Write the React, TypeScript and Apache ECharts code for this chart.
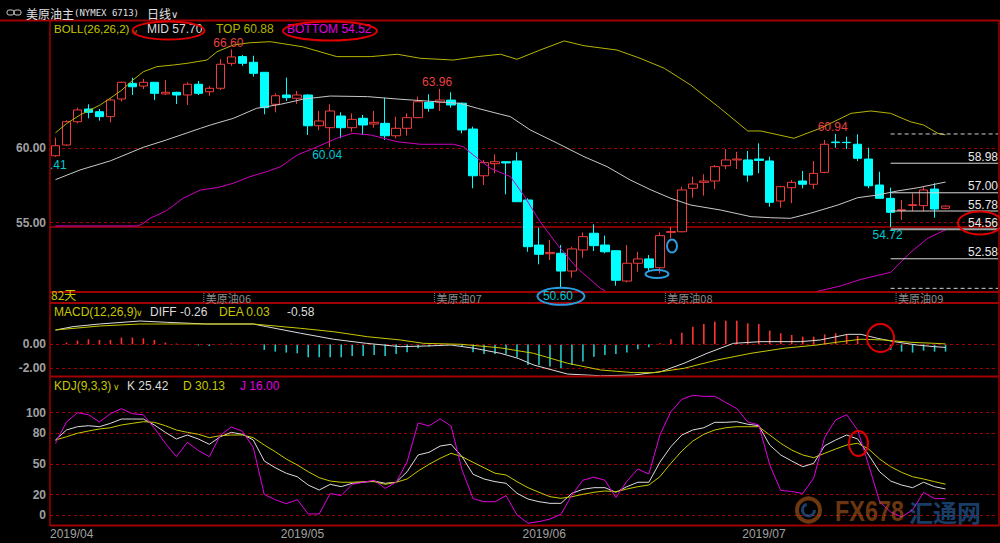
import React, { useEffect, useRef } from 'react';
import * as echarts from 'echarts';

// ---------- DATA ----------
// candles: [open, close, low, high]
const candles: number[][] = [
  [59.48, 60.15, 59.41, 60.69], [60.2, 61.76, 60.15, 61.85], [61.76, 62.55, 61.65, 62.7], [62.61, 62.39, 61.99, 62.93],
  [62.43, 62.1, 61.83, 62.61], [62.1, 63.21, 61.72, 63.33], [63.28, 64.4, 63.1, 64.44], [64.33, 64.1, 63.55, 64.71],
  [64.15, 64.4, 63.95, 64.62], [64.4, 63.66, 63.21, 64.4], [63.62, 63.73, 63.55, 64.55], [63.73, 63.55, 62.95, 63.77],
  [63.55, 64.27, 62.88, 64.4], [64.27, 63.66, 63.55, 64.49], [63.77, 64.0, 63.5, 64.15], [64.0, 65.61, 63.88, 65.96],
  [65.67, 66.1, 65.5, 66.6], [66.12, 65.67, 65.5, 66.23], [65.74, 65.0, 64.78, 66.18], [65.07, 62.7, 62.26, 65.07],
  [62.93, 63.5, 62.39, 63.66], [63.55, 63.37, 63.15, 64.71], [63.33, 63.55, 62.95, 63.82], [63.55, 61.49, 60.87, 63.6],
  [61.49, 61.81, 61.2, 62.48], [61.36, 62.48, 60.04, 62.93], [62.14, 61.36, 60.65, 62.39], [61.36, 61.92, 61.09, 62.32],
  [61.99, 61.54, 60.87, 62.21], [61.61, 61.72, 61.36, 62.48], [61.65, 60.82, 60.54, 63.37], [60.82, 61.32, 60.65, 62.1],
  [61.32, 62.03, 60.82, 62.32], [62.03, 63.1, 62.0, 63.44], [63.06, 62.66, 62.43, 63.6], [63.06, 63.21, 62.48, 63.96],
  [63.21, 62.88, 62.7, 63.73], [63.0, 61.21, 60.98, 63.05], [61.27, 58.14, 57.3, 61.43], [58.14, 59.02, 57.52, 59.2],
  [58.95, 59.08, 58.31, 59.58], [59.08, 59.0, 56.9, 59.08], [59.13, 56.4, 56.4, 59.71], [56.52, 53.39, 53.05, 56.63],
  [53.5, 52.88, 52.21, 54.66], [52.92, 53.01, 52.5, 53.84], [52.95, 51.76, 50.6, 53.5], [51.76, 53.24, 51.31, 53.39],
  [53.17, 54.06, 52.65, 54.35], [54.29, 53.46, 53.1, 54.89], [53.5, 53.05, 52.95, 54.13], [53.12, 51.14, 50.78, 53.12],
  [51.09, 52.28, 51.0, 53.5], [52.28, 52.57, 51.71, 53.05], [52.57, 51.98, 51.76, 52.83], [51.98, 54.13, 51.6, 54.35],
  [54.35, 54.4, 53.95, 54.73], [54.39, 57.19, 54.35, 57.41], [57.3, 57.59, 56.67, 58.08], [57.7, 57.79, 56.81, 58.24],
  [57.79, 58.75, 57.25, 58.86], [58.81, 59.2, 58.59, 59.93], [59.2, 59.26, 58.59, 59.75], [59.2, 58.19, 57.74, 59.8],
  [59.26, 59.17, 58.31, 60.31], [59.13, 56.36, 56.07, 59.42], [56.45, 57.41, 56.0, 57.47], [57.34, 57.7, 56.3, 57.86],
  [57.79, 57.57, 57.3, 58.46], [57.57, 58.3, 57.25, 59.13], [58.37, 60.25, 58.31, 60.54], [60.4, 60.36, 60.02, 60.94],
  [60.38, 60.36, 59.93, 60.76], [60.25, 59.31, 59.13, 60.92], [59.26, 57.47, 57.3, 60.02], [57.52, 56.63, 56.63, 58.41],
  [56.63, 55.69, 54.72, 57.34], [55.82, 55.86, 55.18, 56.52], [56.15, 56.2, 55.78, 56.97], [56.14, 57.19, 55.78, 57.41],
  [57.25, 55.91, 55.33, 57.64], [55.96, 56.11, 55.9, 56.15],
];

// BOLL bands: [day index, price]
const bollUpper: number[][] = [
  [0, 61.02], [1.03, 61.65], [2.24, 62.21], [3.15, 62.55], [4.06, 62.88], [4.97, 63.33], [6.04, 63.88], [7.04, 64.55],
  [8.0, 65.11], [9.23, 65.45], [10.74, 65.56], [11.96, 65.67], [13.78, 65.89], [14.7, 66.45], [16.2, 66.9], [17.7, 67.05],
  [19.55, 67.12], [22.5, 66.78], [25.6, 66.12], [28.7, 66.12], [31.1, 66.28], [33.2, 66.01], [36.2, 65.89], [38.4, 66.12],
  [40.5, 66.28], [42, 65.94], [44.1, 66.56], [46.3, 67.17], [48.1, 66.85], [51.1, 66.56], [53.2, 66.01], [55.4, 65.34],
  [57.8, 64.22], [60.5, 62.66], [63, 61.14], [64.2, 61.14], [67.2, 60.65], [69.6, 61.32], [72.4, 62.32], [74.2, 62.48],
  [76, 62.32], [77.8, 61.76], [79, 61.54], [80.3, 60.98], [81, 60.88],
];
const bollMid: number[][] = [
  [0, 57.88], [2.24, 58.53], [5, 59.14], [8, 60.05], [10.1, 60.54], [13.2, 61.32], [14.1, 61.54], [16.2, 61.99],
  [18.3, 62.66], [20.5, 62.93], [22.6, 63.28], [25, 63.48], [28.4, 63.44], [31.1, 63.28], [34.7, 63.1], [36.8, 62.99],
  [38.4, 62.66], [40.5, 62.26], [41.4, 62.1], [43.2, 61.21], [45.7, 60.31], [48.1, 59.42], [50.2, 58.75], [52.3, 57.86],
  [54.2, 57.19], [56, 56.63], [57.8, 56.18], [60.5, 55.85], [63.3, 55.4], [65.1, 55.33], [66.9, 55.29], [68.7, 55.63],
  [71.2, 56.18], [73, 56.67], [74.8, 56.85], [76.6, 57.12], [78.5, 57.34], [81, 57.72],
];
const bollLower: number[][] = [
  [0, 54.78], [7.5, 54.78], [8.0, 54.96], [8.6, 55.29], [10.1, 55.8], [11.6, 56.63], [13.2, 57.19], [14.7, 57.34],
  [16.2, 57.64], [17.7, 58.08], [19.2, 58.41], [20.5, 58.75], [22, 59.53], [23.5, 59.98], [25.6, 60.65], [27, 60.98],
  [28.7, 60.87], [31.1, 60.42], [33.2, 60.25], [36.2, 60.25], [37.1, 60.09], [38.4, 59.31], [39.6, 58.64], [41.4, 58.08],
  [42.6, 56.85], [44.1, 55.06], [45.7, 53.5], [47.5, 51.94], [49.6, 50.6], [52, 49.6], [56, 49.2], [62, 49.2],
  [66, 49.7], [68.7, 50.29], [71.4, 50.75], [73.3, 51.2], [76, 51.67], [77.8, 53.0], [79.4, 53.96], [81, 54.52],
];

// MACD histogram, one per day
const macdHist: number[] = [
  0, 0.14, 0.31, 0.42, 0.36, 0.36, 0.56, 0.56, 0.5, 0.36, 0.14, 0.06, 0.03, -0.1, -0.14, 0.03, 0.06, 0.03, 0, -0.47,
  -0.61, -0.69, -0.75, -1.08, -1.08, -1.08, -1.08, -0.97, -0.97, -0.89, -0.97, -0.8, -0.67, -0.33, -0.19, 0.03, 0, -0.19,
  -0.67, -0.8, -0.8, -0.8, -1.08, -1.72, -1.72, -1.86, -2.0, -1.72, -1.44, -1.03, -0.89, -0.8, -0.69, -0.42, -0.25,
  0.08, 0.42, 0.97, 1.47, 1.69, 1.89, 1.97, 1.97, 1.75, 1.69, 1.14, 0.92, 0.78, 0.64, 0.64, 0.83, 0.92, 0.86, 0.69,
  0.03, -0.08, -0.47, -0.61, -0.69, -0.53, -0.61, -0.61,
];
const macdDiff: number[][] = [
  [0, 1.19], [1.6, 1.47], [4, 1.69], [7.7, 1.94], [10.1, 1.83], [13.8, 1.69], [18, 1.69], [19.2, 1.47], [22.3, 0.92],
  [25.3, 0.42], [28.3, 0.08], [31.4, -0.2], [33.8, -0.14], [36, -0.06], [38.1, -0.33], [40.5, -0.75], [42.1, -1.17],
  [43.5, -1.72], [46.6, -2.48], [49.6, -2.62], [52.6, -2.56], [55.1, -2.28], [57.2, -1.58], [59.3, -0.75], [61.7, 0.08],
  [64.2, 0.22], [67.8, 0.22], [69.6, 0.36], [72.1, 0.83], [73.3, 0.83], [74.8, 0.5], [76.3, 0.22], [78.4, -0.06],
  [80, -0.2], [81, -0.26],
];
const macdDea: number[][] = [
  [0, 1.19], [4.1, 1.53], [7.7, 1.69], [13.8, 1.69], [18, 1.69], [22.3, 1.33], [25.3, 1.05], [28.4, 0.63], [31.4, 0.36],
  [33.5, 0.08], [36.9, 0], [40.5, -0.3], [43.5, -0.75], [46.6, -1.58], [49.6, -2.14], [52.6, -2.36], [54.5, -2.36],
  [57.2, -2.0], [60.2, -1.31], [63.3, -0.75], [66.3, -0.33], [69.3, -0.06], [71.5, 0.22], [73.3, 0.42], [75.4, 0.36],
  [77.8, 0.17], [80, 0.08], [81, 0.03],
];

// KDJ, one value per day
const kdjK: number[] = [
  73.3, 83.1, 86.3, 87.3, 86.3, 89.6, 93.8, 93.8, 93.8, 88, 80.8, 74.3, 78.2, 74.3, 69.1, 76.5, 80.8, 78.9, 73.3, 52.8,
  46.2, 40.8, 37.4, 29.3, 24.4, 30, 27.7, 31, 32, 33.2, 31, 32, 42.3, 58.7, 61.3, 67.4, 69.1, 57, 39.8, 35.2, 32.6,
  31, 21.2, 15.6, 13, 11.4, 11.4, 21.2, 25.1, 26.7, 26.7, 22.2, 27.7, 32, 32, 51.5, 66.8, 78.2, 83.1, 85.3, 90.6,
  90.6, 91.2, 88.7, 87.3, 68.4, 58.7, 52.8, 47.2, 50.5, 67.7, 73.3, 78.2, 74.3, 58.7, 42.3, 33.2, 29.3, 26.7, 32, 27.7, 25.4,
];
const kdjD: number[] = [
  73.3, 76.5, 79.9, 82.1, 84.1, 85.3, 88, 89.6, 91.2, 90.6, 87.3, 83.1, 80.8, 78.9, 75.6, 77.5, 78.2, 78.2, 75.6, 68.4,
  61.9, 54.7, 48.9, 42.3, 36.5, 33.2, 32, 32, 32.6, 32.6, 30, 32, 35.2, 43, 49.6, 55.4, 60.3, 57, 51.5, 46.2, 40.8,
  39.1, 32.6, 26.7, 22.2, 17.9, 16.3, 17.9, 20.2, 22.2, 23.5, 22.8, 25.4, 27.7, 29.3, 37.4, 50.5, 62.6, 72.3, 78.9, 83.1,
  85.3, 86.3, 86.3, 86.3, 78.2, 70.1, 63.5, 58.7, 56, 60.3, 64.5, 68.4, 70.1, 64.5, 54.7, 47.2, 41.7, 37.4, 35.2, 32.6, 30.1,
];
const kdjJ: number[] = [
  70, 91, 100, 98, 91, 99, 104, 99, 98, 85, 70, 57, 71, 63, 57, 78, 86, 82, 66, 20, 15, 11, 15, 1, 1, 21, 19, 30, 32,
  34, 26, 32, 52, 90, 87, 94, 87, 44, 16, 13, 13,
  19, 0, -8, -6.5, -4, 0.7, 19.5, 34, 37, 34, 17, 33, 45, 40, 78, 101, 113, 117, 116, 116, 110, 104, 91, 88, 49, 24,
  23, 21, 36, 76, 93, 98, 83, 49, 13, 3, -2, 5, 22, 16, 16,
];

const monthStarts = [0, 21, 43, 63];
const monthLabels = ['2019/04', '2019/05', '2019/06', '2019/07'];
const priceTicks = [55, 60];
const macdTicks = [0, -2];
const kdjTicks = [0, 20, 50, 80, 100];
const supportLine = 54.72;
const fibLevels = [60.94, 58.98, 57.0, 55.78, 54.56, 52.58, 50.6];
const fibDashed = [true, false, false, false, false, false, true];
const fibStartDay = 76;
const extremes = [
  { day: 16, price: 66.6, text: '66.60', kind: 'high' },
  { day: 0, price: 59.41, text: '.41', kind: 'low' },
  { day: 25, price: 60.04, text: '60.04', kind: 'low' },
  { day: 35, price: 63.96, text: '63.96', kind: 'high' },
  { day: 46, price: 50.6, text: '50.60', kind: 'low' },
  { day: 71, price: 60.94, text: '60.94', kind: 'high' },
  { day: 76, price: 54.72, text: '54.72', kind: 'low' },
];
const rollDays = [14, 35, 56, 77];
const rollLabels = ['美原油06', '美原油07', '美原油08', '美原油09'];

// ---------- STYLE ----------
const N = 86;
const L = 50;
const W = 945;
const FONT = '"Liberation Sans", Arial, sans-serif';
const CJK = '"Noto Sans CJK SC", sans-serif';
const RED = '#f03c3c';
const CYAN = '#00ffff';
const YEL = '#c8c800';
const WHITE = '#dcdcdc';
const MAG = '#e000e0';
const GRIDRED = '#a00000';

const cats = Array.from({ length: N }, (_, i) => 'd' + i);

const dashLine = (v: number) => ({ yAxis: v, lineStyle: { color: GRIDRED, type: [3, 3], width: 1 } });

function buildOption(): any {
  const hidden = { show: false };
  const yBase = (min: number, max: number, ticks: number[], fmt: (v: number) => string, gi: number) => ({
    type: 'value', gridIndex: gi, min, max, scale: true,
    axisLine: hidden, axisTick: hidden, splitLine: hidden,
    axisLabel: { customValues: ticks, formatter: fmt, color: '#a0a0a0', fontSize: 12, fontWeight: 'bold', fontFamily: FONT, margin: 4 },
  });
  const lineS = (data: number[][], xi: number, yi: number, color: string, extra: any = {}) => ({
    type: 'line', xAxisIndex: xi, yAxisIndex: yi, data, symbol: 'none', showSymbol: false, silent: true,
    lineStyle: { color, width: 1 }, itemStyle: { color }, z: 5, ...extra,
  });
  return {
    animation: false,
    backgroundColor: '#000',
    tooltip: { show: false },
    grid: [
      { left: L, top: 20, width: W, height: 272, containLabel: false, outerBoundsMode: 'none' },
      { left: L, top: 303, width: W, height: 74, containLabel: false, outerBoundsMode: 'none' },
      { left: L, top: 377, width: W, height: 148, containLabel: false, outerBoundsMode: 'none' },
    ],
    xAxis: [
      { type: 'category', gridIndex: 0, data: cats, boundaryGap: true, show: false },
      { type: 'value', gridIndex: 0, min: -0.5, max: N - 0.5, show: false },
      { type: 'category', gridIndex: 1, data: cats, boundaryGap: true, show: false },
      { type: 'value', gridIndex: 1, min: -0.5, max: N - 0.5, show: false },
      {
        type: 'value', gridIndex: 2, min: -0.5, max: N - 0.5,
        axisLine: hidden, axisTick: hidden, splitLine: hidden,
        axisLabel: {
          customValues: monthStarts.map((s) => s - 0.5),
          formatter: (v: number) => monthLabels[monthStarts.indexOf(Math.round(v + 0.5))] || '',
          align: 'left', color: '#a0a0a0', fontSize: 12, fontFamily: FONT, margin: 3,
        },
      },
    ],
    yAxis: [
      yBase(50.355, 68.573, priceTicks, (v) => v.toFixed(2), 0),
      yBase(-2.725, 3.44, macdTicks, (v) => v.toFixed(2), 1),
      yBase(-9.78, 134.9, kdjTicks, (v) => String(v), 2),
    ],
    series: [
      {
        type: 'candlestick', xAxisIndex: 0, yAxisIndex: 0, data: candles, barWidth: 9, silent: true, z: 2,
        itemStyle: { color: '#000', color0: CYAN, borderColor: RED, borderColor0: CYAN, borderWidth: 1 },
        markLine: {
          silent: true, symbol: 'none', label: { show: false }, animation: false, z: 1,
          data: [
            ...priceTicks.map(dashLine),
            { yAxis: supportLine, lineStyle: { color: '#b00000', type: 'solid', width: 1.5 } },
          ],
        },
      },
      lineS(bollUpper, 1, 0, '#b4b400'),
      lineS(bollMid, 1, 0, '#c8c8c8'),
      lineS(bollLower, 1, 0, '#d000c0', { z: 6 }),
      {
        type: 'bar', xAxisIndex: 2, yAxisIndex: 1, barWidth: 1.6, silent: true,
        data: macdHist.map((v) => ({ value: v, itemStyle: { color: v >= 0 ? '#ff3232' : '#1ec8c8' } })),
        markLine: { silent: true, symbol: 'none', label: { show: false }, data: macdTicks.map(dashLine) },
      },
      lineS(macdDiff, 3, 1, WHITE),
      lineS(macdDea, 3, 1, YEL),
      lineS(kdjK.map((v, i) => [i, v]), 4, 2, WHITE, {
        markLine: { silent: true, symbol: 'none', label: { show: false }, data: kdjTicks.map(dashLine) },
      }),
      lineS(kdjD.map((v, i) => [i, v]), 4, 2, YEL),
      lineS(kdjJ.map((v, i) => [i, v]), 4, 2, MAG),
    ],
  };
}

const T = (text: string, x: number, y: number, fill: string, o: any = {}) => ({
  type: 'text', x, y, silent: true, z: 100,
  style: {
    text, fill, font: o.font || `12px ${FONT}`,
    align: o.align || 'left', textAlign: o.align || 'left',
    verticalAlign: o.va || 'middle', textVerticalAlign: o.va || 'middle',
    opacity: o.opacity == null ? 1 : o.opacity,
  },
  ...(o.scaleX ? { scaleX: o.scaleX } : {}),
});
const Ln = (x1: number, y1: number, x2: number, y2: number, stroke: string, w = 1, dash?: number[]) => ({
  type: 'line', silent: true, z: 90,
  shape: { x1, y1, x2, y2 },
  style: { stroke, lineWidth: w, lineDash: dash || null },
});
const Ell = (cx: number, cy: number, rx: number, ry: number, stroke: string, w = 2) => ({
  type: 'ellipse', silent: true, z: 110,
  shape: { cx, cy, rx, ry },
  style: { fill: 'none', stroke, lineWidth: w },
});

function buildGraphics(chart: any): any[] {
  const px = (d: number, v: number) => chart.convertToPixel({ xAxisIndex: 1, yAxisIndex: 0 }, [d, v]) as number[];
  const band = W / N;
  const g: any[] = [];
  // panel borders
  g.push(Ln(0, 20.5, 1000, 20.5, GRIDRED, 2));
  g.push(Ln(50, 20, 50, 526, GRIDRED, 1.5));
  g.push(Ln(999, 20, 999, 526, GRIDRED, 1.5));
  [292, 303, 376.5, 525.5].forEach((y) => g.push(Ln(50, y, 999, y, GRIDRED, 2)));

  // header
  g.push({ type: 'rect', silent: true, shape: { x: 7, y: 10, width: 7, height: 5, r: 2 }, style: { fill: 'none', stroke: '#c8c8c8', lineWidth: 1 } });
  g.push({ type: 'rect', silent: true, shape: { x: 14, y: 10, width: 7, height: 5, r: 2 }, style: { fill: 'none', stroke: '#c8c8c8', lineWidth: 1 } });
  g.push(T('美原油主', 26, 13, '#e0e0e0', { font: `12px ${CJK}` }));
  g.push(T('(NYMEX 6713)', 74, 13, '#e0e0e0', { font: `9px "DejaVu Sans Mono", monospace` }));
  g.push(T('日线', 147, 13, '#e0e0e0', { font: `12px ${CJK}` }));
  g.push(T('∨', 171, 14, '#e0e0e0', { font: `10px "DejaVu Sans", sans-serif` }));

  // legends
  g.push(T('BOLL(26,26,2)', 54, 29, YEL, { font: `11.5px ${FONT}` }));
  g.push(T('∨', 132, 32, '#d0a000', { font: `8px "DejaVu Sans", sans-serif` }));
  g.push(T('MID 57.70', 147, 29, WHITE));
  g.push(T('TOP 60.88', 216, 29, '#b4b400'));
  g.push(T('BOTTOM 54.52', 287, 29, MAG));
  g.push(Ell(168.5, 30.5, 36, 9, '#e00000'));
  g.push(Ell(330, 31, 47, 9.5, '#e00000'));

  g.push(T('MACD(12,26,9)', 54, 312, YEL));
  g.push(T('∨', 136, 313, YEL, { font: `9px "DejaVu Sans", sans-serif` }));
  g.push(T('DIFF -0.26', 150, 312, WHITE));
  g.push(T('DEA 0.03', 219, 312, YEL));
  g.push(T('-0.58', 287, 312, WHITE));

  g.push(T('KDJ(9,3,3)', 54, 386, YEL));
  g.push(T('∨', 113, 387, YEL, { font: `9px "DejaVu Sans", sans-serif` }));
  g.push(T('K 25.42', 127, 386, WHITE));
  g.push(T('D 30.13', 183, 386, YEL));
  g.push(T('J 16.00', 240, 386, MAG));

  // extreme labels
  extremes.forEach((e) => {
    const [x, y] = px(e.day, e.price);
    const col = e.kind === 'high' ? '#e84040' : '#00c8d0';
    const yy = e.kind === 'high' ? y - 6.5 : y + 8;
    if (e.text.startsWith('.')) g.push(T(e.text, x - band / 2, yy, col));
    else g.push(T(e.text, x - 3, yy, col, { align: 'center' }));
  });
  // annotation shapes
  {
    const [x, y] = px(46, 50.6);
    g.push(Ell(x, y + 8, 23.5, 8.5, '#2a9de0'));
  }
  g.push(Ell(672, 246, 5, 6.5, '#2a9de0'));
  g.push(Ell(657, 274, 11.5, 4, '#2a9de0'));

  // fib levels
  fibLevels.forEach((lv, i) => {
    const [x0, y] = px(fibStartDay, lv);
    if (fibDashed[i]) {
      g.push(Ln(x0, y, 998, y, '#d0d0d0', 1, [4, 3]));
    } else {
      g.push(Ln(x0, y, 998, y, i === 4 ? '#a0a0a0' : '#d8d8d8', i === 4 ? 2 : 1));
      g.push(T(lv.toFixed(2), 998, y - 6.5, '#e8e8e8', { align: 'right' }));
    }
  });
  g.push(Ell(980, 223, 22, 11.5, '#e00000'));
  g.push(Ell(880.5, 338, 13.5, 14, '#e00000'));
  g.push(Ell(858.5, 443.5, 9.5, 12.5, '#e00000'));

  // contract roll strip
  rollDays.forEach((d, i) => {
    const [x] = px(d, 55);
    const xl = x - band / 2;
    g.push(Ln(xl, 293, xl, 302, '#808080', 1, [1, 1]));
    g.push(T(rollLabels[i], xl + 2, 297.5, '#8c8c8c', { font: `11px ${CJK}` }));
  });
  g.push(T('82天', 51, 294.5, YEL, { font: `12px ${CJK}` }));

  // watermark
  g.push({ type: 'circle', silent: true, z: 95, shape: { cx: 808.5, cy: 510, r: 11.5 }, style: { fill: 'none', stroke: '#c8641e', lineWidth: 4, opacity: 0.55 } });
  g.push({ type: 'arc', silent: true, z: 96, shape: { cx: 808.5, cy: 510, r: 6, startAngle: 0, endAngle: Math.PI * 1.4 }, style: { fill: 'none', stroke: '#2a6ab0', lineWidth: 3, opacity: 0.6 } });
  g.push(T('FX678', 835, 511, '#c8641e', { font: `bold 30px ${FONT}`, opacity: 0.55, scaleX: 0.78 }));
  g.push(T('汇通网', 909, 511, '#2a6ab0', { font: `bold 24px ${CJK}`, opacity: 0.6 }));
  return g;
}

export default function App() {
  const ref = useRef<HTMLDivElement>(null);
  useEffect(() => {
    document.body.style.margin = '0';
    document.body.style.background = '#000';
    const chart = echarts.init(ref.current!, null, { renderer: 'svg' });
    chart.setOption(buildOption());
    chart.setOption({ graphic: buildGraphics(chart) });
    return () => chart.dispose();
  }, []);
  return (
    <div
      ref={ref}
      style={{ position: 'absolute', left: 0, top: 0, width: 1000, height: 543, background: '#000' }}
    />
  );
}
